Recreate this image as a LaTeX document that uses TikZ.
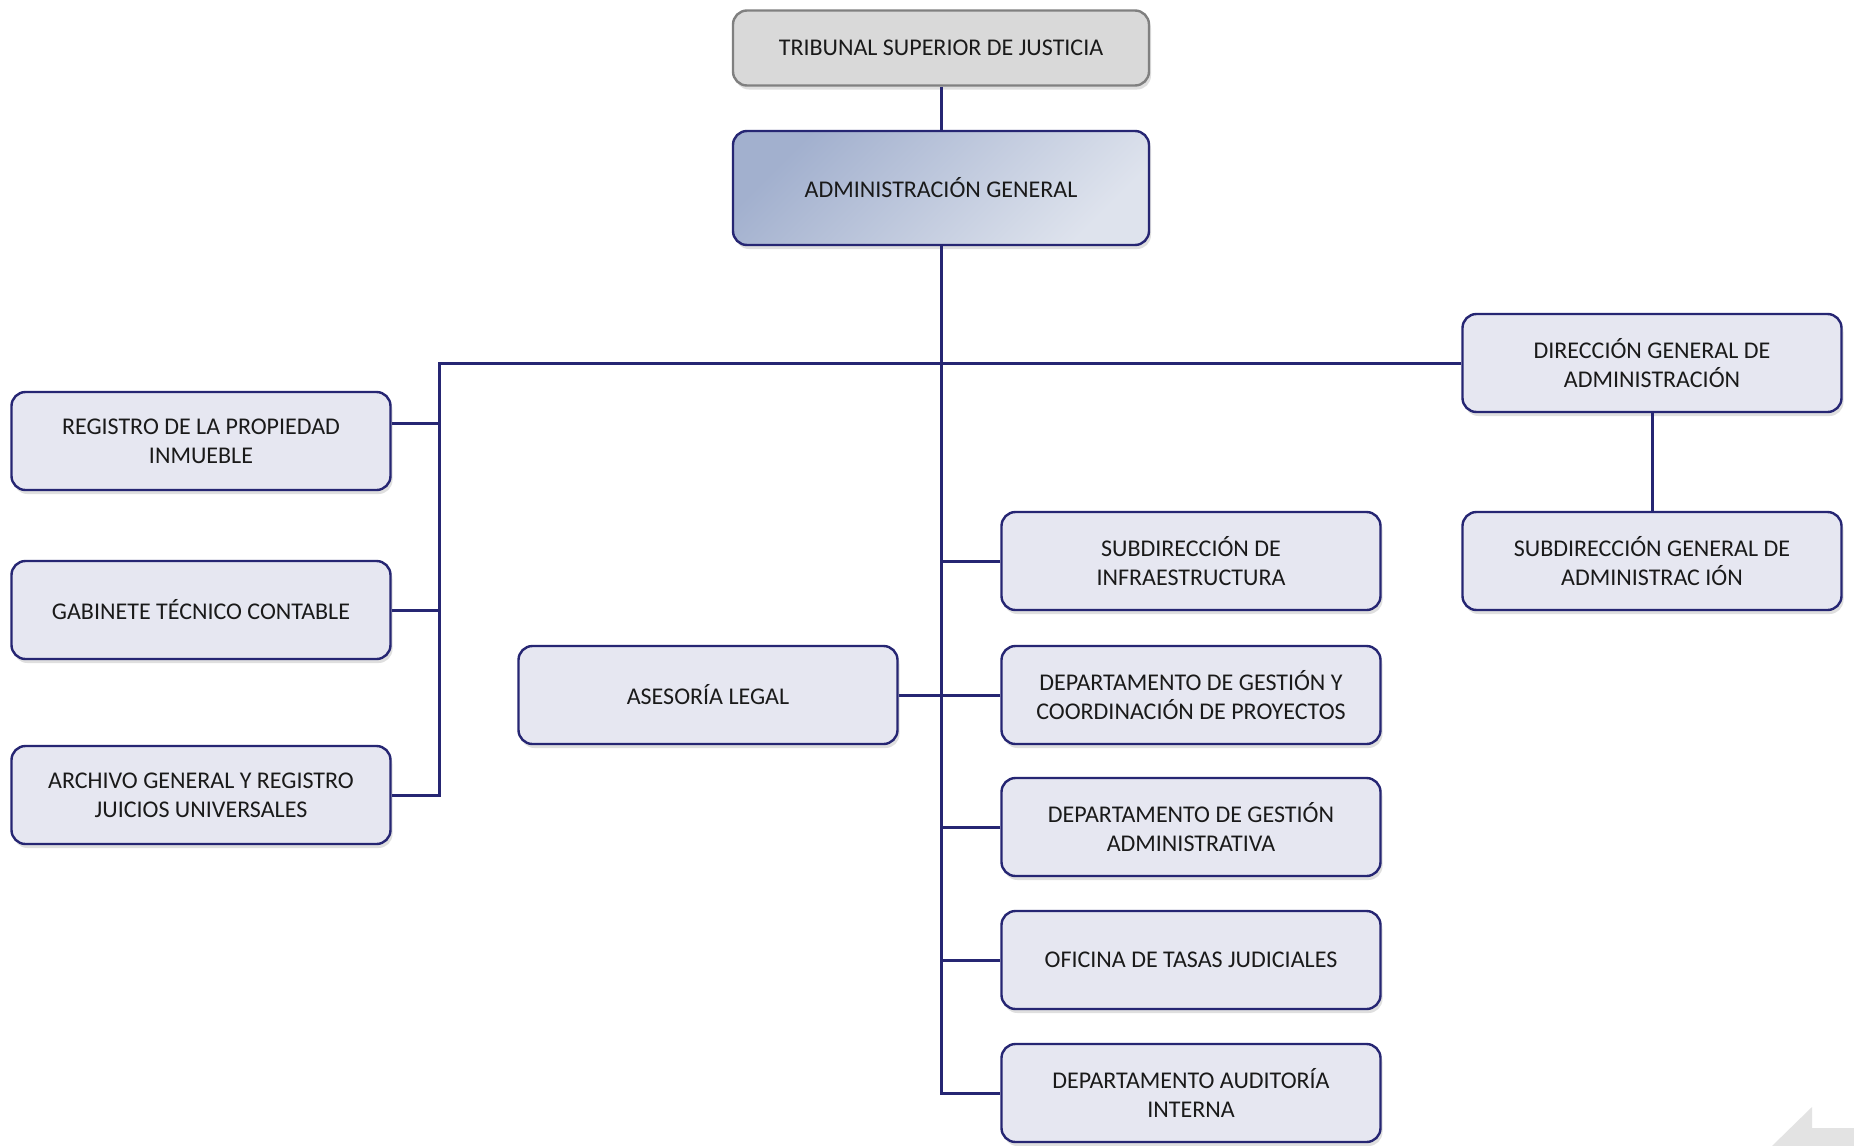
\documentclass[tikz,border=0pt]{standalone}
\usepackage{fontspec}
\setmainfont{Carlito}
\usetikzlibrary{shadows}
\definecolor{navy}{HTML}{262673}
\definecolor{boxfill}{HTML}{E6E7F1}
\definecolor{txt}{HTML}{1A1A1A}
\definecolor{agdark}{HTML}{A2B0CE}
\definecolor{aglight}{HTML}{DEE3ED}
\def\unitnode{\node[unit]}

\begin{document}
\begin{tikzpicture}[x=0.5pt,y=-0.5pt,
  unit/.style={draw=navy,line width=1.2pt,fill=boxfill,rounded corners=7pt,
    minimum width=189.5pt,minimum height=49pt,inner sep=0pt,align=center,
    text=txt,font=\fontsize{12pt}{14.5pt}\selectfont,
    drop shadow={opacity=0.25,shadow xshift=1pt,shadow yshift=-2pt}},
  link/.style={draw=navy,line width=1.5pt}]
\fill[white] (0,0) rectangle (1854,1146);
\useasboundingbox (0,0) rectangle (1854,1146);
% top of the chart
\node[unit,draw=gray,fill=gray!30,minimum width=208pt,minimum height=37.5pt] (tsj) at (941,48) {TRIBUNAL SUPERIOR DE JUSTICIA};
\node[unit,fill=none,top color=agdark,bottom color=aglight,shading angle=45,minimum width=208pt,minimum height=57pt] (ag) at (941,188) {ADMINISTRACIÓN GENERAL};
% left column
\unitnode (reg) at (201,441) {REGISTRO DE LA PROPIEDAD\\INMUEBLE};
\unitnode (gab) at (201,610) {GABINETE TÉCNICO CONTABLE};
\unitnode (arc) at (201,795) {ARCHIVO GENERAL Y REGISTRO\\JUICIOS UNIVERSALES};
\unitnode (ase) at (708,695) {ASESORÍA LEGAL};
% right column
\unitnode (sinf) at (1191,561) {SUBDIRECCIÓN DE\\INFRAESTRUCTURA};
\unitnode (dgcp) at (1191,695) {DEPARTAMENTO DE GESTIÓN Y\\COORDINACIÓN DE PROYECTOS};
\unitnode (dgad) at (1191,827) {DEPARTAMENTO DE GESTIÓN\\ADMINISTRATIVA};
\unitnode (otj) at (1191,960) {OFICINA DE TASAS JUDICIALES};
\unitnode (dai) at (1191,1093) {DEPARTAMENTO AUDITORÍA\\INTERNA};
\unitnode (dga) at (1652,363) {DIRECCIÓN GENERAL DE\\ADMINISTRACIÓN};
\unitnode (sga) at (1652,561) {SUBDIRECCIÓN GENERAL DE\\ADMINISTRAC IÓN};
\coordinate (busl) at (439,363);
\coordinate (regj) at (439,423);
% connectors
\draw[link] (tsj) -- (ag);
\draw[link] (ag.south) |- (dai.west);
\foreach \n in {sinf,dgcp,dgad,otj}
  \draw[link] (\n.west) -- (\n.west -| ag.south);
\draw[link] (ase.east) -- (ase.east -| ag.south);
\draw[link] (dga.west) -- (busl) |- (arc.east);
\draw[link] (gab.east) -- (gab.east -| busl);
\draw[link] (reg.east |- regj) -- (regj);
\draw[link] (dga) -- (sga);
% cut-off arrow in the corner
\fill[gray!22] (1812,1107) -- (1812,1128) -- (1854,1128) -- (1854,1146) -- (1772,1146) -- cycle;
\end{tikzpicture}
\end{document}
